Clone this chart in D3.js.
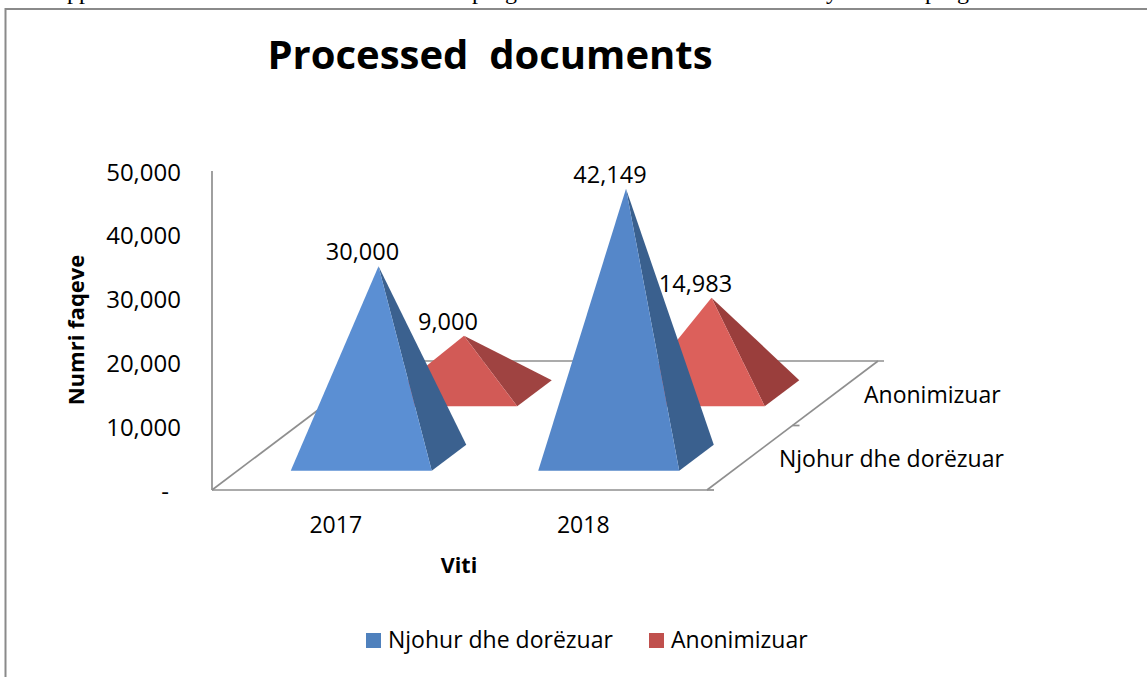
<!DOCTYPE html>
<html><head><meta charset="utf-8">
<script src="https://cdn.jsdelivr.net/npm/d3@7/dist/d3.min.js"></script>
<style>html,body{margin:0;padding:0;background:#fff;overflow:hidden}text{font-family:"Open Sans","Noto Sans",sans-serif;fill:#000}</style>
</head><body><svg id="c" width="1147" height="677"></svg>
<script>
const title = "Processed  documents";
const years = ["2017", "2018"];
const seriesNames = ["Njohur dhe dorëzuar", "Anonimizuar"];
const valuesKnown = [30000, 42149];
const valuesAnon = [9000, 14983];
const yTicks = [0, 10000, 20000, 30000, 40000, 50000];
const clippedPageText = [["pp", 67], ["p", 472], ["g", 505], ["y", 826], ["p", 925], ["g", 957]];

const svg = d3.select("#c");
const x = d3.scaleBand().domain(years).range([212, 707]);
const y = d3.scaleLinear().domain([0, 50000]).range([490, 171]);
const z = d3.scaleLinear().domain([0, 1]).range([0, 1]);
const DX = 171, DY = 129;
const proj = (px, v, d) => [px + z(d) * DX, y(v) - z(d) * DY];
const fmt = d3.format(",");
const gray = "#8f8f8f";

svg.selectAll(".pg").data(clippedPageText).join("text").attr("class", "pg")
  .attr("x", d => d[1]).attr("y", -1).attr("font-size", 24)
  .style("font-family", "'Liberation Serif',serif").text(d => d[0]);

svg.append("rect").attr("x", 5.5).attr("y", 9).attr("width", 1160).attr("height", 690)
  .attr("fill", "#fff").attr("stroke", "#8a8a8a").attr("stroke-width", 2);

const line = (a, b, w) => svg.append("line").attr("x1", a[0]).attr("y1", a[1]).attr("x2", b[0]).attr("y2", b[1])
  .attr("stroke", gray).attr("stroke-width", w || 1.7);
const x0 = x.range()[0], x1 = x.range()[1];
line([x0, y(0)], [x0, y(50000)]);
line([x0, y(0)], [x1, y(0)]);
line([x1, y(0)], proj(x1, 0, 1));
line([x0, y(0)], proj(x0, 0, 1));
line(proj(x0, 0, 1), [proj(x1, 0, 1)[0] + 6, proj(x1, 0, 1)[1]]);
line([x1, y(0)], [x1 + 7, y(0)]);
line(proj(x1, 0, .5), [proj(x1, 0, .5)[0] + 7, proj(x1, 0, .5)[1]]);

const halfW = 70.5, halfD = 0.101;
const styles = [
  {faces: ["#5b8fd3", "#5587c9"], sides: ["#3b618f", "#3a608e"], d: .25, vals: valuesKnown},
  {faces: ["#d25a56", "#dc605b"], sides: ["#9f4341", "#9a3e3c"], d: .75, vals: valuesAnon}
];
const path = pts => "M" + pts.map(p => p.join(",")).join("L") + "Z";
[styles[1], styles[0]].forEach(s => {
  years.forEach((yr, i) => {
    const cx = x(yr) + x.bandwidth() / 2, v = s.vals[i];
    const apex = proj(cx, v, s.d);
    const fl = proj(cx - halfW, 0, s.d - halfD), fr = proj(cx + halfW, 0, s.d - halfD), br = proj(cx + halfW, 0, s.d + halfD);
    svg.append("path").attr("d", path([apex, fr, br])).attr("fill", s.sides[i]);
    svg.append("path").attr("d", path([apex, fl, fr])).attr("fill", s.faces[i]);
  });
});
styles.forEach(s => s.vals.forEach((v, i) => {
  const cx = x(years[i]) + x.bandwidth() / 2, a = proj(cx, v, s.d);
  svg.append("text").attr("x", a[0] - 16).attr("y", a[1] - 6)
    .attr("text-anchor", "middle").attr("font-size", 23.5).text(fmt(v));
}));

svg.selectAll(".yt").data(yTicks).join("text").attr("class", "yt")
  .attr("x", d => d === 0 ? 169 : 181).attr("y", d => y(d) + 9.5).attr("text-anchor", "end").attr("font-size", 24)
  .text(d => d === 0 ? "-" : fmt(d));
svg.selectAll(".xt").data(years).join("text").attr("class", "xt")
  .attr("x", (d, i) => x(d) + x.bandwidth() / 2).attr("y", 533).attr("text-anchor", "middle").attr("font-size", 23).text(d => d);

svg.append("text").attr("x", 864).attr("y", 403).attr("font-size", 23).text(seriesNames[1]);
svg.append("text").attr("x", 779).attr("y", 467).attr("font-size", 23).text(seriesNames[0]);

svg.append("text").attr("x", 490).attr("y", 69).attr("text-anchor", "middle").attr("font-size", 40).attr("font-weight", 700)
  .attr("xml:space", "preserve").style("white-space", "pre").text(title);
svg.append("text").attr("x", 459).attr("y", 573).attr("text-anchor", "middle").attr("font-size", 21.5).attr("font-weight", 700).text("Viti");
svg.append("text").attr("transform", "translate(84,330) rotate(-90)").attr("text-anchor", "middle").attr("font-size", 22).attr("font-weight", 700).text("Numri faqeve");

const leg = [[366, "#4f81bd", 388], [649, "#c0504d", 671]];
leg.forEach((l, i) => {
  svg.append("rect").attr("x", l[0]).attr("y", 633).attr("width", 15).attr("height", 15).attr("fill", l[1]);
  svg.append("text").attr("x", l[2]).attr("y", 648).attr("font-size", 23).text(seriesNames[i]);
});
</script></body></html>
